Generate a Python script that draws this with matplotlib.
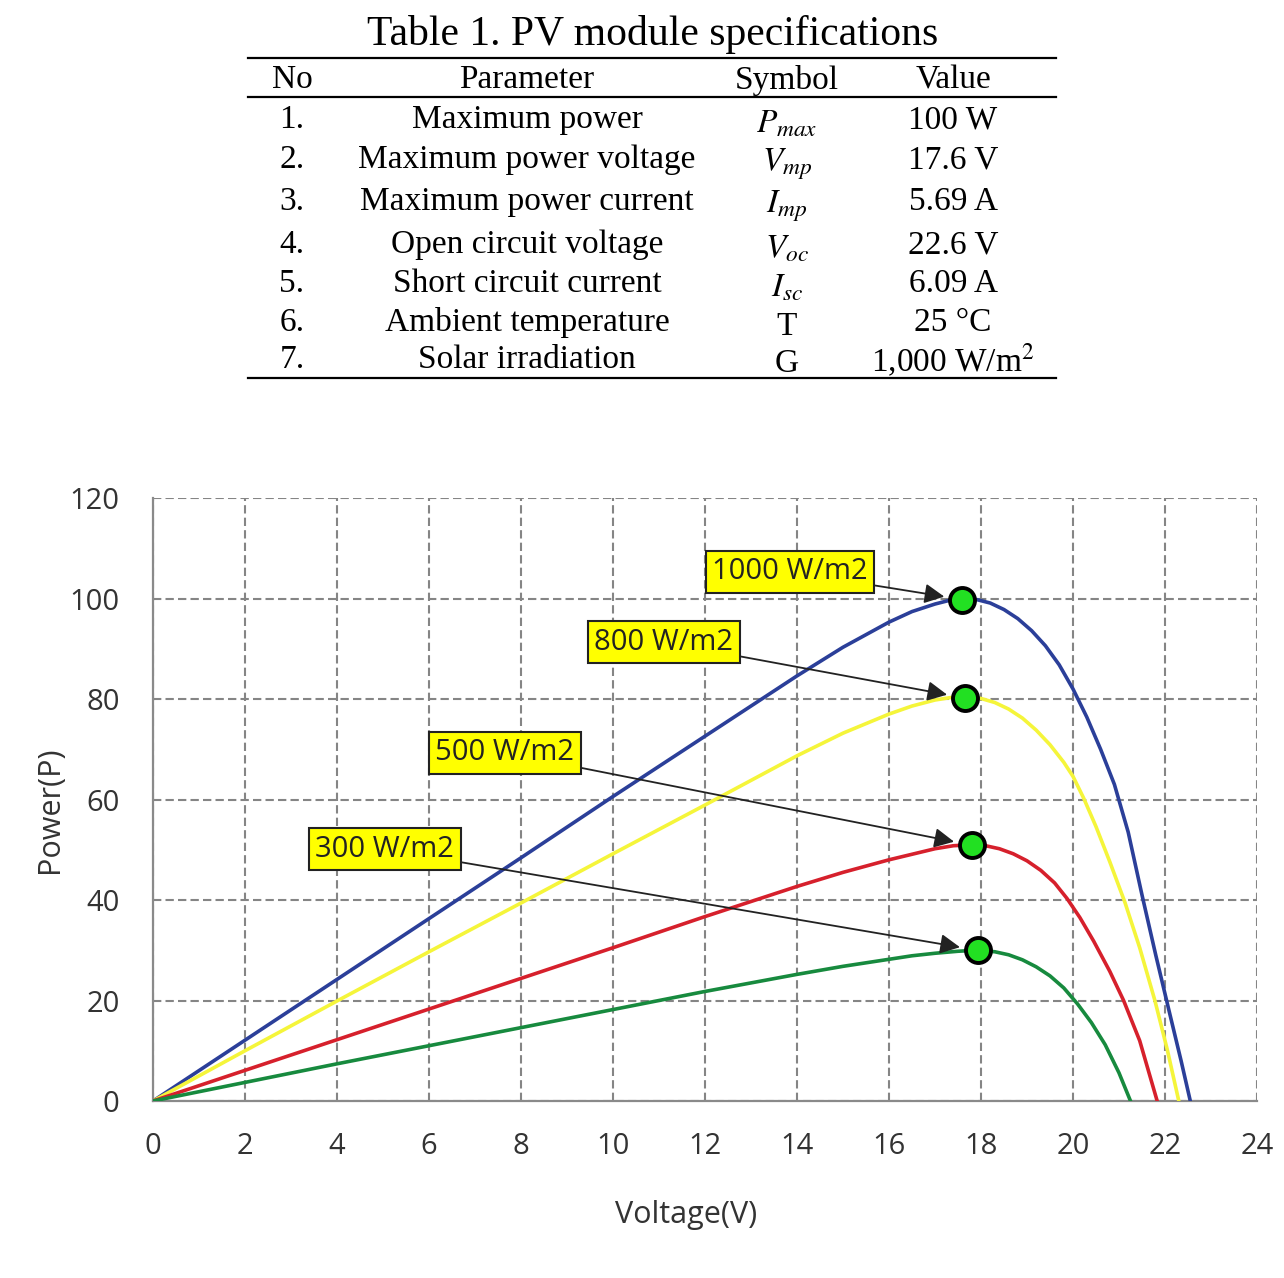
import matplotlib.pyplot as plt
from matplotlib.lines import Line2D

plt.rcParams['mathtext.fontset'] = 'stix'

# ---- table data ----
row_no = ['1.', '2.', '3.', '4.', '5.', '6.', '7.']
row_param = ['Maximum power', 'Maximum power voltage', 'Maximum power current',
             'Open circuit voltage', 'Short circuit current', 'Ambient temperature',
             'Solar irradiation']
row_symbol = ['$P_{max}$', '$V_{mp}$', '$I_{mp}$', '$V_{oc}$', '$I_{sc}$', 'T', 'G']
row_value = ['100 W', '17.6 V', '5.69 A', '22.6 V', '6.09 A', '25 \u00b0C', '1,000 W/m$^2$']
header = ['No', 'Parameter', 'Symbol', 'Value']

# ---- P-V curves ----
v_1000 = [0, 2, 4, 6, 8, 10, 12, 14, 15, 16, 16.5, 17, 17.3, 17.6, 17.9, 18.2, 18.5, 18.8,
          19.1, 19.4, 19.7, 20, 20.3, 20.6, 20.9, 21.2, 21.5, 21.8, 22.1, 22.35, 22.55]
p_1000 = [0, 12.1, 24.2, 36.3, 48.4, 60.6, 72.6, 84.6, 90.3, 95.3, 97.4, 98.9, 99.6, 100, 99.8,
          99.1, 97.8, 96.0, 93.6, 90.6, 86.8, 82.0, 76.4, 70.0, 63.0, 53.5, 41.0, 29.0, 17.5, 8.0, 0]

v_800 = [0, 2, 4, 6, 8, 10, 12, 14, 15, 16, 16.5, 17, 17.35, 17.7, 18.0, 18.3, 18.6, 18.9,
         19.2, 19.5, 19.8, 20.0, 20.23, 20.5, 20.8, 21.13, 21.45, 21.78, 22.05, 22.3]
p_800 = [0, 10.0, 19.9, 29.7, 39.4, 49.2, 58.9, 68.7, 73.2, 77.0, 78.6, 79.8, 80.3, 80.4, 80.1,
         79.3, 78.0, 76.2, 73.8, 70.9, 67.4, 64.6, 60.3, 54.6, 47.6, 39.5, 30.5, 20, 10.2, 0]

v_500 = [0, 2, 4, 6, 8, 10, 12, 14, 15, 16, 16.5, 17, 17.4, 17.8, 18.1, 18.4, 18.7, 19.0,
         19.3, 19.6, 19.87, 20.15, 20.45, 20.8, 21.1, 21.45, 21.83]
p_500 = [0, 6.1, 12.2, 18.3, 24.4, 30.5, 36.7, 42.7, 45.5, 48.0, 49.1, 50.2, 50.8, 51.0, 50.8,
         50.2, 49.2, 47.8, 45.9, 43.4, 40.3, 36.5, 31.8, 25.8, 20, 12, 0]

v_300 = [0, 2, 4, 6, 8, 10, 12, 14, 15, 16, 16.5, 17, 17.5, 17.9, 18.3, 18.6, 18.9, 19.2,
         19.5, 19.8, 20.1, 20.4, 20.7, 21.0, 21.25]
p_300 = [0, 3.7, 7.4, 11.0, 14.6, 18.2, 21.8, 25.2, 26.8, 28.2, 28.9, 29.4, 29.8, 30.0, 29.7,
         29.1, 28.1, 26.7, 24.9, 22.5, 19.3, 15.6, 11.2, 5.6, 0]

# maximum power points and their labels
mpp_v = [17.59, 17.65, 17.8, 17.93]
mpp_p = [99.8, 80.2, 50.9, 30.0]
mpp_labels = ['1000 W/m2', '800 W/m2', '500 W/m2', '300 W/m2']
label_pos = [(13.85, 105.3), (11.1, 91.3), (7.65, 69.3), (5.04, 50.1)]

fig = plt.figure(figsize=(12.84, 12.78), dpi=100)
W, H = 1284.0, 1278.0

def fx(px):
    return px / W

def fy(py):
    return 1 - py / H

# ---- table ----
serif = 'Liberation Serif'
fig.text(fx(653), fy(35), 'Table 1. PV module specifications', family=serif,
         fontsize=30, ha='center', va='center')
for yy in (58, 97, 378):
    fig.add_artist(Line2D([fx(248), fx(1056)], [fy(yy), fy(yy)], color='black', lw=1.6))

col_x = [292, 527, 787, 953]
for x, h in zip(col_x, header):
    fig.text(fx(x), fy(80), h, family=serif, fontsize=24, ha='center', va='center')

row_y = [120, 160, 202, 245, 284, 323, 360]
for i, y in enumerate(row_y):
    fig.text(fx(col_x[0]), fy(y), row_no[i], family=serif, fontsize=24, ha='center', va='center')
    fig.text(fx(col_x[1]), fy(y), row_param[i], family=serif, fontsize=24, ha='center', va='center')
    fig.text(fx(col_x[2]), fy(y + 4), row_symbol[i], family=serif, fontsize=24, ha='center', va='center')
    fig.text(fx(col_x[3]), fy(y), row_value[i], family=serif, fontsize=24, ha='center', va='center')

# ---- chart ----
sans = 'Open Sans'
ax = fig.add_axes([fx(153), 1 - 1101 / H, fx(1257) - fx(153), (1101 - 498) / H])

ax.plot(v_1000, p_1000, color='#2b3f99', lw=2.6, zorder=3)
ax.plot(v_800, p_800, color='#f5f53a', lw=2.6, zorder=3)
ax.plot(v_500, p_500, color='#d6202c', lw=2.6, zorder=3)
ax.plot(v_300, p_300, color='#178a3e', lw=2.6, zorder=3)

ax.plot(mpp_v, mpp_p, 'o', ms=18, mfc='#22e022', mec='black', mew=2.8, zorder=5)

for lab, pos, xv, yv in zip(mpp_labels, label_pos, mpp_v, mpp_p):
    ax.annotate(lab, xy=(xv, yv), xytext=pos, family=sans, fontsize=21, color='#222222',
                ha='center', va='center', zorder=6,
                bbox=dict(boxstyle='square,pad=0.22', fc='#ffff00', ec='#222222', lw=1.5),
                arrowprops=dict(arrowstyle='-|>', color='#222222', lw=1.3,
                                mutation_scale=30, shrinkA=0, shrinkB=13))

ax.set_xlim(0, 24)
ax.set_ylim(0, 120)
ax.set_xticks(range(0, 25, 2))
ax.set_yticks(range(0, 121, 20))
ax.grid(True, color='#858585', lw=1.5, linestyle=(0, (4, 2)))
ax.tick_params(length=0, labelsize=21, colors='#333333')
ax.tick_params(axis='x', pad=22)
ax.tick_params(axis='y', pad=24)
for lbl in ax.get_xticklabels() + ax.get_yticklabels():
    lbl.set_family(sans)
for s in ('top', 'right'):
    ax.spines[s].set_visible(False)
for s in ('left', 'bottom'):
    ax.spines[s].set_color('#8a8a8a')
    ax.spines[s].set_linewidth(1.6)

fig.text(fx(686), fy(1215), 'Voltage(V)', family=sans, fontsize=22, color='#333333',
         ha='center', va='center')
fig.text(fx(50), fy(810), 'Power(P)', family=sans, fontsize=22, color='#333333',
         ha='center', va='center', rotation=90)

fig.savefig('out.png', dpi=100)
